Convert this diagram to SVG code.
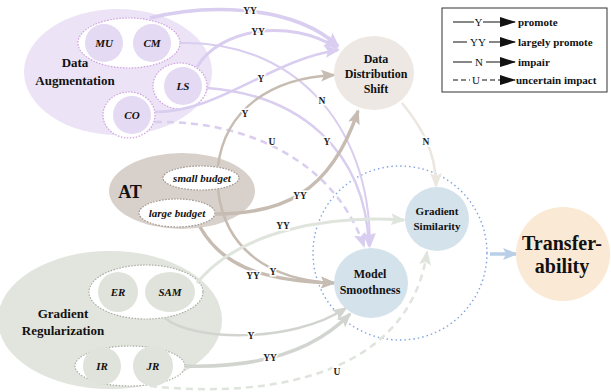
<svg xmlns="http://www.w3.org/2000/svg" width="611" height="392" viewBox="0 0 611 392">
<defs>
<style>
text{font-family:"Liberation Serif","Times New Roman","DejaVu Serif",serif}
.lbl{font-weight:bold;fill:#111;text-anchor:middle}
.it{font-style:italic}
.el{font-weight:bold;font-size:9.5px;fill:#222;text-anchor:middle;stroke:#fff;stroke-width:3px;paint-order:stroke}
.pu{fill:none;stroke:#d9cdf0}
.br{fill:none;stroke:#c7bcb2}
.gg{fill:none;stroke:#dfe4dd}
.gr{fill:none;stroke:#d2d5cf}
.dash{stroke-dasharray:7 5}
.wdash{fill:#fff;stroke-width:1.2;stroke-dasharray:1.5 1.5}
.leg{font-size:11px;fill:#111}
</style>
<marker id="aPu" markerUnits="userSpaceOnUse" markerWidth="16" markerHeight="12" refX="13" refY="6" orient="auto"><path d="M0,0 L15,6 L0,12 L3,6 z" fill="#d9cdf0"/></marker>
<marker id="aBr" markerUnits="userSpaceOnUse" markerWidth="16" markerHeight="12" refX="13" refY="6" orient="auto"><path d="M0,0 L15,6 L0,12 L3,6 z" fill="#c7bcb2"/></marker>
<marker id="aGg" markerUnits="userSpaceOnUse" markerWidth="16" markerHeight="12" refX="13" refY="6" orient="auto"><path d="M0,0 L15,6 L0,12 L3,6 z" fill="#dfe4dd"/></marker>
<marker id="aGr" markerUnits="userSpaceOnUse" markerWidth="16" markerHeight="12" refX="13" refY="6" orient="auto"><path d="M0,0 L15,6 L0,12 L3,6 z" fill="#d2d5cf"/></marker>
<marker id="aBe" markerUnits="userSpaceOnUse" markerWidth="16" markerHeight="12" refX="13" refY="6" orient="auto"><path d="M0,0 L15,6 L0,12 L3,6 z" fill="#ece6e0"/></marker>
<marker id="aBl" markerUnits="userSpaceOnUse" markerWidth="16" markerHeight="12" refX="13" refY="6" orient="auto"><path d="M0,0 L15,6 L0,12 L3,6 z" fill="#b9cfe8"/></marker>
<marker id="aK" markerUnits="userSpaceOnUse" markerWidth="16" markerHeight="10" refX="15" refY="5" orient="auto"><path d="M0,0 L16,5 L0,10 z" fill="#111"/></marker>
</defs>
<rect width="611" height="392" fill="#fff"/>

<g id="data-augmentation">
<ellipse cx="118" cy="72" rx="94" ry="63" fill="#ece4f6"/>
<ellipse cx="129" cy="43" rx="51" ry="25" class="wdash" stroke="#cf9fe0"/>
<circle cx="104" cy="43" r="19" fill="#e4daf3"/>
<circle cx="152" cy="43" r="19" fill="#e4daf3"/>
<ellipse cx="180" cy="86" rx="27" ry="23" class="wdash" stroke="#cf9fe0"/>
<circle cx="183" cy="86" r="19" fill="#e4daf3"/>
<ellipse cx="129" cy="115" rx="26" ry="23" class="wdash" stroke="#cf9fe0"/>
<circle cx="132" cy="115" r="19" fill="#e4daf3"/>
<text class="lbl" x="75" y="67" font-size="13">Data</text>
<text class="lbl" x="75" y="85" font-size="13">Augmentation</text>
<text class="lbl it" x="104" y="47" font-size="11">MU</text>
<text class="lbl it" x="152" y="47" font-size="11">CM</text>
<text class="lbl it" x="183" y="90" font-size="11">LS</text>
<text class="lbl it" x="132" y="119" font-size="11">CO</text>
</g>

<g id="at">
<ellipse cx="182" cy="191" rx="73" ry="38" fill="#d8d0ca"/>
<ellipse cx="201" cy="178" rx="38" ry="12" class="wdash" stroke="#9e958e"/>
<ellipse cx="177" cy="213" rx="38" ry="14" class="wdash" stroke="#9e958e"/>
<text class="lbl" x="130" y="198" font-size="18">AT</text>
<text class="lbl it" x="202" y="182" font-size="11">small budget</text>
<text class="lbl it" x="177" y="217" font-size="11">large budget</text>
</g>

<g id="gradient-regularization">
<ellipse cx="110" cy="320" rx="112" ry="69" fill="#e1e5dd"/>
<ellipse cx="146" cy="292" rx="57" ry="27" class="wdash" stroke="#a9ada4"/>
<circle cx="118" cy="292" r="20" fill="#dfe3db"/>
<ellipse cx="170" cy="292" rx="25" ry="20" fill="#dfe3db"/>
<ellipse cx="130" cy="366" rx="55" ry="20" class="wdash" stroke="#a9ada4"/>
<circle cx="102" cy="366" r="19" fill="#dfe3db"/>
<circle cx="153" cy="366" r="20" fill="#dfe3db"/>
<text class="lbl" x="63" y="318" font-size="13">Gradient</text>
<text class="lbl" x="63" y="335" font-size="13">Regularization</text>
<text class="lbl it" x="118" y="296" font-size="11">ER</text>
<text class="lbl it" x="170" y="296" font-size="11">SAM</text>
<text class="lbl it" x="102" y="370" font-size="11">IR</text>
<text class="lbl it" x="153" y="370" font-size="11">JR</text>
</g>

<g id="connectors">
<circle cx="400" cy="253" r="87" fill="none" stroke="#7fa4de" stroke-width="1.4" stroke-dasharray="1.5 3"/>
<path class="pu" stroke-width="3.5" d="M150,18 C200,5 290,2 338,46" marker-end="url(#aPu)"/>
<path class="pu" stroke-width="3" d="M197,67 C220,28 290,18 337,48" marker-end="url(#aPu)"/>
<path class="pu" stroke-width="2.5" d="M155,112 C220,112 270,60 338,50" marker-end="url(#aPu)"/>
<path class="pu" stroke-width="2" d="M180,43 C290,40 370,120 370,246" marker-end="url(#aPu)"/>
<path class="pu" stroke-width="2.5" d="M207,88 C300,95 365,150 369,246" marker-end="url(#aPu)"/>
<path class="pu dash" stroke-width="2.5" d="M155,122 C230,120 330,150 364,246" marker-end="url(#aPu)"/>
<path class="br" stroke-width="2.5" d="M218,166 C225,110 270,78 334,75" marker-end="url(#aBr)"/>
<path class="br" stroke-width="3.5" d="M215,214 C280,214 330,195 358,111" marker-end="url(#aBr)"/>
<path class="br" stroke-width="2.5" d="M218,190 C225,250 270,280 334,283" marker-end="url(#aBr)"/>
<path class="br" stroke-width="3.5" d="M200,227 C220,262 255,281 334,283" marker-end="url(#aBr)"/>
<path class="gg" stroke-width="3" d="M197,283 C240,230 330,215 404,220" marker-end="url(#aGg)"/>
<path class="gr" stroke-width="2.5" d="M165,318 C190,340 290,345 346,308" marker-end="url(#aGr)"/>
<path class="gr" stroke-width="3.5" d="M185,366 C250,368 310,355 350,314" marker-end="url(#aGr)"/>
<path class="gg dash" stroke-width="2.5" d="M150,386 C280,400 410,370 427,252" marker-end="url(#aGg)"/>
<path fill="none" stroke="#ece6e0" stroke-width="2.5" d="M402,103 C420,125 436,150 436,186" marker-end="url(#aBe)"/>
<path fill="none" stroke="#b9cfe8" stroke-width="3.5" d="M490,254 L516,254" marker-end="url(#aBl)"/>
<text class="el" x="250" y="14">YY</text>
<text class="el" x="258" y="35">YY</text>
<text class="el" x="261" y="82">Y</text>
<text class="el" x="322" y="104">N</text>
<text class="el" x="327" y="145">Y</text>
<text class="el" x="272" y="145">U</text>
<text class="el" x="245" y="117">Y</text>
<text class="el" x="300" y="199">YY</text>
<text class="el" x="273" y="275">Y</text>
<text class="el" x="253" y="279">YY</text>
<text class="el" x="283" y="229">YY</text>
<text class="el" x="251" y="339">Y</text>
<text class="el" x="270" y="361">YY</text>
<text class="el" x="337" y="375">U</text>
<text class="el" x="426" y="145">N</text>
</g>

<g id="data-distribution-shift">
<ellipse cx="374" cy="73" rx="40" ry="37" fill="#ede8e3"/>
<text class="lbl" x="376" y="63" font-size="12">Data</text>
<text class="lbl" x="376" y="78" font-size="12">Distribution</text>
<text class="lbl" x="376" y="93" font-size="12">Shift</text>
</g>

<g id="gradient-similarity">
<circle cx="437" cy="219" r="32" fill="#d4e2ec"/>
<text class="lbl" x="437" y="215" font-size="11">Gradient</text>
<text class="lbl" x="437" y="230" font-size="11">Similarity</text>
</g>

<g id="model-smoothness">
<ellipse cx="371" cy="283" rx="37" ry="35" fill="#d4e2ec"/>
<text class="lbl" x="370" y="278" font-size="12">Model</text>
<text class="lbl" x="370" y="294" font-size="12">Smoothness</text>
</g>

<g id="transferability">
<circle cx="563" cy="254" r="47" fill="#fae9d4"/>
<text class="lbl" x="562" y="250" font-size="20">Transfer-</text>
<text class="lbl" x="562" y="273" font-size="20">ability</text>
</g>

<g id="legend">
<rect x="442" y="8" width="165" height="84" fill="#fff" stroke="#333" stroke-width="1"/>
<g stroke="#111" stroke-width="1.2" fill="none">
<path d="M453,22 H474 M483,22 H515" marker-end="url(#aK)"/>
<path d="M453,42 H467 M489,42 H515" marker-end="url(#aK)"/>
<path d="M453,62 H472 M486,62 H515" marker-end="url(#aK)"/>
<path d="M453,80 H470 M482,80 H515" stroke-dasharray="5 3" marker-end="url(#aK)"/>
</g>
<text class="leg" x="478.5" y="26" text-anchor="middle">Y</text>
<text class="leg" x="478" y="46" text-anchor="middle">YY</text>
<text class="leg" x="479" y="66" text-anchor="middle">N</text>
<text class="leg" x="476" y="84" text-anchor="middle">U</text>
<text class="leg" x="518" y="26" font-weight="bold">promote</text>
<text class="leg" x="518" y="46" font-weight="bold">largely promote</text>
<text class="leg" x="518" y="66" font-weight="bold">impair</text>
<text class="leg" x="516" y="84" font-weight="bold">uncertain impact</text>
</g>
</svg>
